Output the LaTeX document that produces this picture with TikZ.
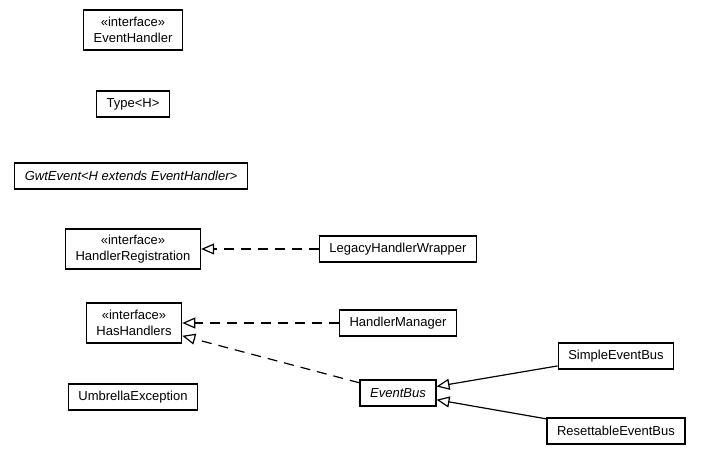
\documentclass[tikz,border=0pt]{standalone}
\usepackage{fontspec}
\setmainfont{Liberation Sans}
\usepackage{tikz}
\usetikzlibrary{positioning,arrows.meta}
\newcommand*{\lsign}{\textless}
\newcommand*{\gsign}{\textgreater}

\begin{document}
\begin{tikzpicture}[x=1pt,y=-1pt,font=\fontsize{13}{16}\selectfont]
	\tikzstyle{cls}=[rectangle, draw=black, line width=1.4pt, fill=white,
	text centered, inner xsep=10pt, inner ysep=0pt, minimum height=26pt]
	\tikzstyle{iface}=[cls, align=center, minimum height=40pt]
	\tikzstyle{realize}=[-{Triangle[open,length=13pt,width=11pt]}, line width=1.2pt, dash pattern=on 10pt off 7pt]
	\tikzstyle{extend}=[-{Triangle[open,length=13pt,width=11pt]}, line width=1.2pt]
	\useasboundingbox (0,0) rectangle (701,460);
	\node (EventHandler) [iface] at (133,30) {«interface»\\EventHandler};
	\node (Type) [cls] at (133,104) {Type\lsign H\gsign};
	\node (GwtEvent) [cls] at (131,176) {\textit{GwtEvent\lsign H extends EventHandler\gsign}};
	\node (HandlerRegistration) [iface] at (133,249) {«interface»\\HandlerRegistration};
	\node (LegacyHandlerWrapper) [cls] at (398,249) {LegacyHandlerWrapper};
	\node (HasHandlers) [iface] at (134,323) {«interface»\\HasHandlers};
	\node (HandlerManager) [cls] at (398,323) {HandlerManager};
	\node (EventBus) [cls] at (398,393) {\textit{EventBus}};
	\node (SimpleEventBus) [cls] at (616,356) {SimpleEventBus};
	\node (ResettableEventBus) [cls] at (616,431) {ResettableEventBus};
	\node (UmbrellaException) [cls] at (133,397) {UmbrellaException};

	\draw[realize] (LegacyHandlerWrapper) -- (HandlerRegistration);
	\draw[realize] (HandlerManager) -- (HasHandlers);
	\draw[realize] (EventBus) -- (HasHandlers);
	\draw[extend] (SimpleEventBus) -- (EventBus);
	\draw[extend] (ResettableEventBus) -- (EventBus);
\end{tikzpicture}
\end{document}
